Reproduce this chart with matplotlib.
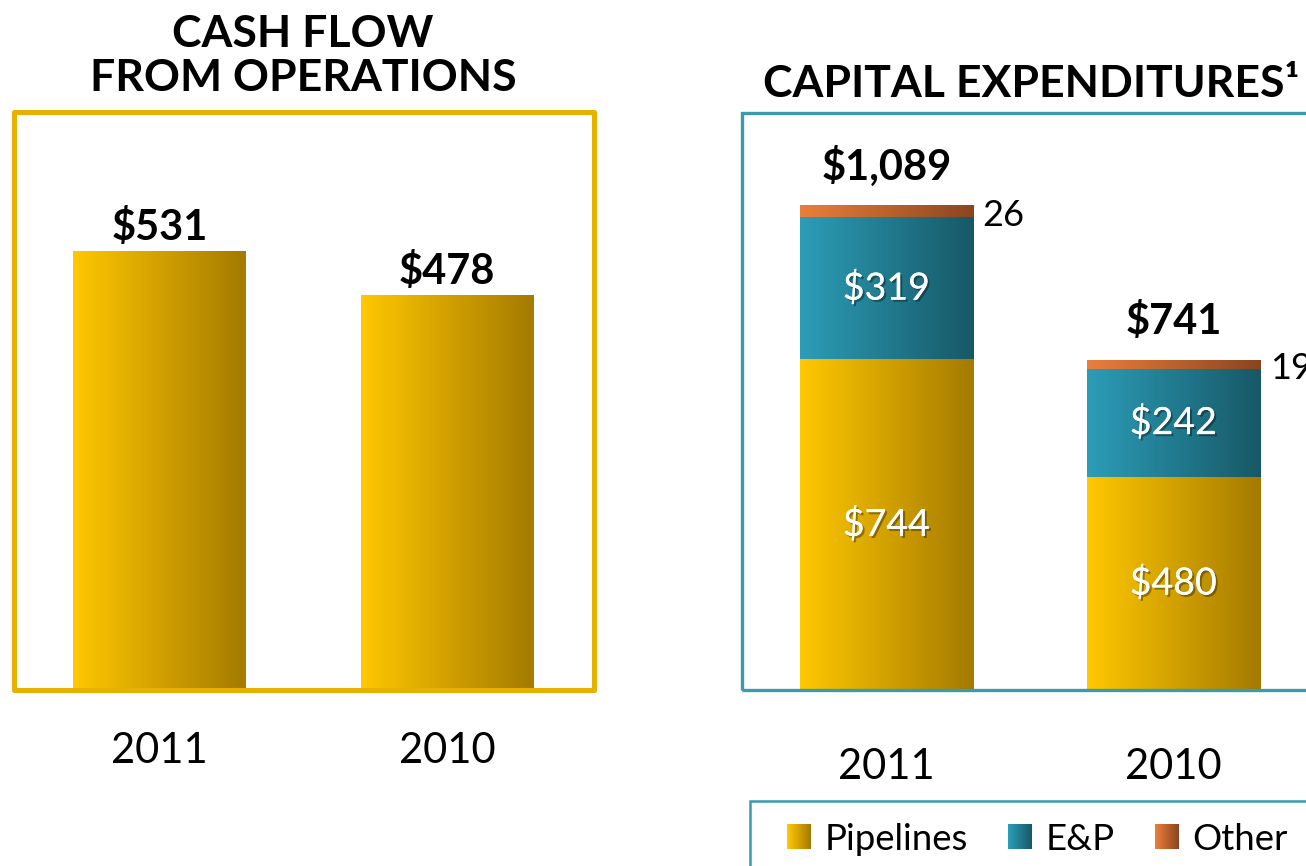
import numpy as np
import matplotlib
matplotlib.use('Agg')
import matplotlib.pyplot as plt
from matplotlib.colors import LinearSegmentedColormap
from matplotlib.patches import Rectangle, Patch
from matplotlib.legend_handler import HandlerBase
import matplotlib.patheffects as pe
import matplotlib.transforms as mtrans

plt.rcParams['font.family'] = ['Lato', 'DejaVu Sans']

# ---------------- data ----------------
years = ['2011', '2010']
cash_flow = [531, 478]
pipelines = [744, 480]
enp = [319, 242]
other = [26, 19]
capex_totals = [1089, 741]
series_names = ['Pipelines', 'E&P', 'Other']

# ---------------- styles ----------------
GOLD = ('#FFC800', '#A47A00')
TEAL = ('#2C9DB8', '#175866')
ORANGE = ('#EA7F3B', '#8A4520')
GOLD_FRAME = '#E8B100'
TEAL_FRAME = '#3A9BAE'

W, H = 1306, 866
fig = plt.figure(figsize=(W / 100, H / 100), dpi=100)


def px_rect(x0, y0, x1, y1):
    return [x0 / W, 1 - y1 / H, (x1 - x0) / W, (y1 - y0) / H]


def cmap_of(c):
    return LinearSegmentedColormap.from_list('g', list(c))


GRAD = np.linspace(0, 1, 256).reshape(1, -1)


def gradient_bars(ax, bars, colors):
    cm = cmap_of(colors)
    for b in bars:
        x0, y0 = b.get_x(), b.get_y()
        w, h = b.get_width(), b.get_height()
        b.set_visible(False)
        ax.imshow(GRAD, extent=(x0, x0 + w, y0, y0 + h), cmap=cm,
                  aspect='auto', interpolation='bilinear', zorder=2)


shadow = [pe.withSimplePatchShadow(offset=(1.5, -1.5), shadow_rgbFace='black', alpha=0.35), pe.Normal()]

# ---------------- left panel ----------------
ax1 = fig.add_axes(px_rect(14, 112, 594, 690))
x = np.arange(len(years))
b1 = ax1.bar(x, cash_flow, width=0.60)
gradient_bars(ax1, b1, GOLD)
for xi, v in zip(x, cash_flow):
    ax1.annotate(f'${v:,}', xy=(xi, v), xytext=(0, 8), textcoords='offset points',
                 ha='center', va='baseline', fontsize=30, fontweight='bold', color='black')
ax1.set_xlim(-0.506, 1.511)
ax1.set_ylim(0, 700)
ax1.axis('off')
ax1.add_patch(Rectangle((0, 0), 1, 1, transform=ax1.transAxes, fill=False,
                        edgecolor=GOLD_FRAME, lw=3.6, joinstyle='round', clip_on=False, zorder=5))
tr1 = mtrans.blended_transform_factory(ax1.transData, ax1.transAxes)
for xi, yl in zip(x, years):
    ax1.text(xi, -0.106, yl, transform=tr1, ha='center', va='center', fontsize=30)

# ---------------- right panel ----------------
ax2 = fig.add_axes(px_rect(742, 113, 1318, 690))
bp = ax2.bar(x, pipelines, width=0.603)
be = ax2.bar(x, enp, width=0.603, bottom=pipelines)
bottom_o = [p + e for p, e in zip(pipelines, enp)]
bo = ax2.bar(x, other, width=0.603, bottom=bottom_o)
gradient_bars(ax2, bp, GOLD)
gradient_bars(ax2, be, TEAL)
gradient_bars(ax2, bo, ORANGE)
for xi, p, e, o, t in zip(x, pipelines, enp, other, capex_totals):
    ax2.text(xi, p / 2, f'${p:,}', ha='center', va='center', fontsize=27,
             color='white', path_effects=shadow, zorder=4)
    ax2.text(xi, p + e / 2, f'${e:,}', ha='center', va='center', fontsize=27,
             color='white', path_effects=shadow, zorder=4)
    ax2.annotate(f'{o}', xy=(xi + 0.3015, p + e + o / 2), xytext=(7, -3),
                 textcoords='offset points', ha='left', va='center', fontsize=26)
    ax2.annotate(f'${t:,}', xy=(xi, p + e + o), xytext=(0, 19), textcoords='offset points',
                 ha='center', va='baseline', fontsize=30, fontweight='bold')
ax2.set_xlim(-0.503, 1.504)
ax2.set_ylim(0, 1298)
ax2.axis('off')
ax2.add_patch(Rectangle((0, 0), 1, 1, transform=ax2.transAxes, fill=False,
                        edgecolor=TEAL_FRAME, lw=2.4, clip_on=False, zorder=5))
tr2 = mtrans.blended_transform_factory(ax2.transData, ax2.transAxes)
for xi, yl in zip(x, years):
    ax2.text(xi, -0.134, yl, transform=tr2, ha='center', va='center', fontsize=30)

# ---------------- titles ----------------
fig.text(303 / W, 1 - 47 / H, 'CASH FLOW', ha='center', va='baseline', fontsize=32, fontweight='bold')
fig.text(303 / W, 1 - 91 / H, 'FROM OPERATIONS', ha='center', va='baseline', fontsize=32, fontweight='bold')
fig.text(763 / W, 1 - 97 / H, 'CAPITAL EXPENDITURES\u00b9', ha='left', va='baseline',
         fontsize=32, fontweight='bold')


# ---------------- legend ----------------
class GradHandler(HandlerBase):
    def __init__(self, colors):
        super().__init__()
        self.cm = cmap_of(colors)

    def create_artists(self, legend, orig_handle, xdescent, ydescent, width, height, fontsize, trans):
        n = 24
        arts = []
        for i in range(n):
            arts.append(Rectangle((-xdescent + width * i / n, -ydescent), width / n * 1.08, height,
                                  facecolor=self.cm(i / (n - 1)), edgecolor='none', transform=trans))
        return arts


LEG_FS = 26.3
handles = [Patch(label=n) for n in series_names]
hmap = {h: GradHandler(c) for h, c in zip(handles, [GOLD, TEAL, ORANGE])}
fig.legend(handles=handles, handler_map=hmap, loc='center left',
           bbox_to_anchor=(787 / W, 1 - 839 / H), ncol=3, frameon=False, fontsize=LEG_FS,
           handlelength=0.66, handleheight=0.66, handletextpad=0.37, columnspacing=1.1,
           borderpad=0, borderaxespad=0)
fig.patches.append(Rectangle((750 / W, -0.1), 1, (1 - 801 / H) + 0.1, transform=fig.transFigure,
                             fill=False, edgecolor=TEAL_FRAME, lw=1.8))

fig.savefig('out.png', dpi=100)
